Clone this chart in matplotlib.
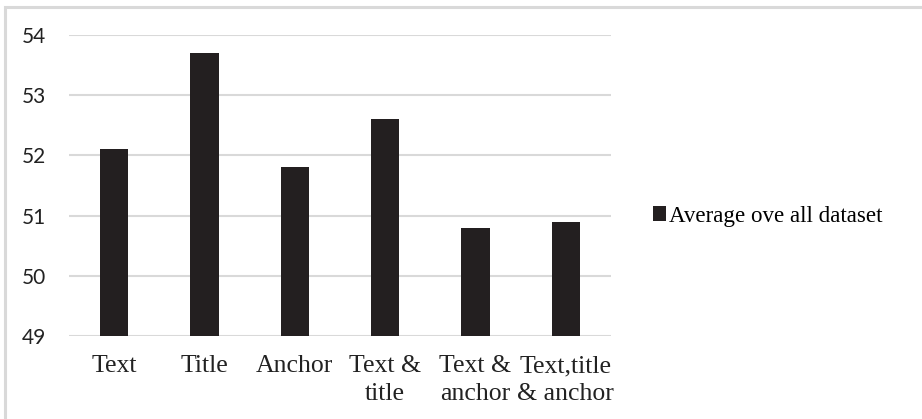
import matplotlib.pyplot as plt
from matplotlib.patches import Rectangle

categories = ["Text", "Title", "Anchor", "Text &\ntitle", "Text &\nanchor", "Text,title\n& anchor"]
averages = [52.1, 53.7, 51.8, 52.6, 50.8, 50.9]
series_name = "Average ove all dataset"
y_ticks = [49, 50, 51, 52, 53, 54]

W, H = 922, 419
fig = plt.figure(figsize=(W / 100, H / 100), dpi=100)

# chart area frame (only top/left edges fall inside the image)
fig.patches.append(Rectangle((5 / W, -0.1), 1.2, (H - 7) / H + 0.1,
                             transform=fig.transFigure, fill=False,
                             edgecolor="#d9d9d9", linewidth=2.2))

ax = fig.add_axes([69 / W, (H - 336) / H, (611 - 69) / W, (336 - 35) / H])
ax.bar(range(len(categories)), averages, width=0.31, color="#231f20",
       label=series_name, zorder=3)
ax.set_xlim(-0.5, len(categories) - 0.5)
ax.set_ylim(49, 54)
ax.set_yticks(y_ticks)
ax.set_yticklabels([str(t) for t in y_ticks], family="Lato", fontsize=15, color="#222222")
ax.set_xticks(range(len(categories)))
ax.set_xticklabels(categories, family="Liberation Serif", fontsize=18.5,
                   linespacing=1.3, color="#222222")
ax.tick_params(length=0)
ax.tick_params(axis="x", pad=14)
ax.tick_params(axis="y", pad=16.5)
ax.grid(axis="y", color="#d9d9d9", linewidth=1.5, zorder=0)
for s in ax.spines.values():
    s.set_visible(False)

leg = fig.legend(loc="center left", bbox_to_anchor=(641 / W, (H - 216) / H),
                 frameon=False, handlelength=0.6, handleheight=0.6,
                 handletextpad=0.12, borderpad=0,
                 prop={"family": "Liberation Serif", "size": 16.6})

fig.savefig("out.png", dpi=100)
